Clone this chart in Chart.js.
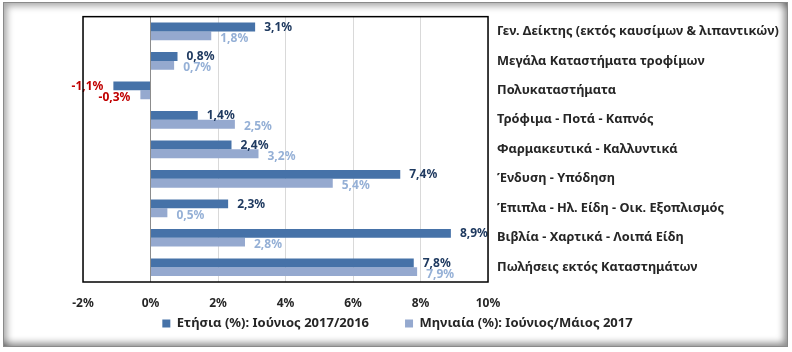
<!DOCTYPE html>
<html>
<head>
<meta charset="utf-8">
<script src="https://cdn.jsdelivr.net/npm/chart.js@4/dist/chart.umd.min.js"></script>
<style>
  html, body { margin: 0; padding: 0; background: #fff; }
  #wrap { position: relative; width: 792px; height: 352px; overflow: hidden; }
  #frame {
    position: absolute; left: 3px; top: 2px; width: 785px; height: 345px;
    box-sizing: border-box; border: 1px solid #8a8a8a;
    box-shadow: inset 6px 6px 7px -3px rgba(0,0,0,0.35), inset -6px -6px 7px -3px rgba(0,0,0,0.45);
  }
  #chart { position: absolute; left: 0; top: 0; }
</style>
</head>
<body>
<div id="wrap">
  <div id="frame"></div>
  <canvas id="chart" width="792" height="352"></canvas>
</div>
<script>
// ====== Datos ======
const categorias = [
  'Γεν. Δείκτης (εκτός καυσίμων & λιπαντικών)',
  'Μεγάλα Καταστήματα τροφίμων',
  'Πολυκαταστήματα',
  'Τρόφιμα - Ποτά - Καπνός',
  'Φαρμακευτικά - Καλλυντικά',
  'Ένδυση - Υπόδηση',
  'Έπιπλα - Ηλ. Είδη - Οικ. Εξοπλισμός',
  'Βιβλία - Χαρτικά - Λοιπά Είδη',
  'Πωλήσεις εκτός Καταστημάτων'
];
const etisia = [3.1, 0.8, -1.1, 1.4, 2.4, 7.4, 2.3, 8.9, 7.8];
const miniaia = [1.8, 0.7, -0.3, 2.5, 3.2, 5.4, 0.5, 2.8, 7.9];
const etiketaEtisia = 'Ετήσια (%): Ιούνιος 2017/2016';
const etiketaMiniaia = 'Μηνιαία (%): Ιούνιος/Μάιος 2017';
const xMin = -2, xMax = 10, xStep = 2;

const COLOR_DARK = '#4672a8';
const COLOR_LIGHT = '#95a9cf';

Chart.defaults.font.family = "'Noto Sans', sans-serif";
Chart.defaults.font.size = 12;
Chart.defaults.font.weight = 'bold';
Chart.defaults.color = '#262626';

// ====== Etiquetas de valores ======
const valueLabels = {
  id: 'valueLabels',
  afterDatasetsDraw(chart) {
    const ctx = chart.ctx;
    ctx.save();
    ctx.font = "bold 12px 'Noto Sans', sans-serif";
    ctx.textBaseline = 'middle';
    chart.data.datasets.forEach((ds, di) => {
      const meta = chart.getDatasetMeta(di);
      meta.data.forEach((bar, i) => {
        const v = ds.data[i];
        const txt = v.toFixed(1).replace('.', ',') + '%';
        const dy = di === 0 ? 0.5 : 2.5;
        if (v < 0) {
          ctx.fillStyle = '#c00000';
          ctx.textAlign = 'right';
          ctx.fillText(txt, bar.x - 10, bar.y + dy);
        } else {
          ctx.fillStyle = di === 0 ? '#1f3a60' : '#95b0d6';
          ctx.textAlign = 'left';
          ctx.fillText(txt, bar.x + 9, bar.y + dy);
        }
      });
    });
    ctx.restore();
  }
};

// ====== Marco del área ======
const plotBox = {
  id: 'plotBox',
  afterDraw(chart) {
    const a = chart.chartArea;
    const ctx = chart.ctx;
    ctx.save();
    ctx.strokeStyle = '#000';
    ctx.lineWidth = 1.5;
    ctx.strokeRect(a.left, a.top, a.right - a.left, a.bottom - a.top);
    ctx.restore();
  }
};

const ctxChart = document.getElementById('chart').getContext('2d');
const chart = new Chart(ctxChart, {
  type: 'bar',
  data: {
    labels: categorias,
    datasets: [
      { label: etiketaEtisia, data: etisia, backgroundColor: COLOR_DARK, yAxisID: 'y' },
      { label: etiketaMiniaia, data: miniaia, backgroundColor: COLOR_LIGHT, yAxisID: 'y' }
    ]
  },
  options: {
    indexAxis: 'y',
    responsive: false,
    animation: false,
    devicePixelRatio: 1,
    layout: { padding: { left: 3, right: 0, top: 15, bottom: 12 } },
    datasets: { bar: { barPercentage: 1, categoryPercentage: 0.6 } },
    scales: {
      x: {
        type: 'linear',
        min: xMin, max: xMax,
        ticks: {
          stepSize: xStep,
          padding: 14,
          color: '#262626',
          font: { size: 12, weight: 'bold' },
          callback: v => v + '%'
        },
        grid: {
          drawTicks: false,
          color: c => c.tick.value === 0 ? '#8c8c8c' : '#d9d9d9'
        },
        border: { display: false },
        afterFit: s => { s.height = 25; }
      },
      y: {
        type: 'category',
        position: 'right',
        grid: { display: false, drawTicks: false },
        border: { display: false },
        ticks: { padding: 9, crossAlign: 'near', color: '#262626', font: { size: 12.75, weight: 'bold' } },
        afterFit: s => { s.width = 304; }
      },
      yl: {
        type: 'category',
        position: 'left',
        labels: categorias,
        grid: { display: false, drawTicks: false },
        border: { display: false },
        ticks: { display: false },
        afterFit: s => { s.width = 80; }
      }
    },
    plugins: {
      legend: {
        position: 'bottom',
        labels: {
          boxWidth: 8,
          boxHeight: 8,
          padding: 10,
          color: '#262626',
          font: { size: 13, weight: 'bold' },
          generateLabels: ch => {
            const items = Chart.defaults.plugins.legend.labels.generateLabels(ch);
            items[0].text = items[0].text + '\u2003\u2003';
            return items;
          }
        }
      },
      tooltip: { enabled: false }
    }
  },
  plugins: [valueLabels, plotBox]
});
</script>
</body>
</html>
